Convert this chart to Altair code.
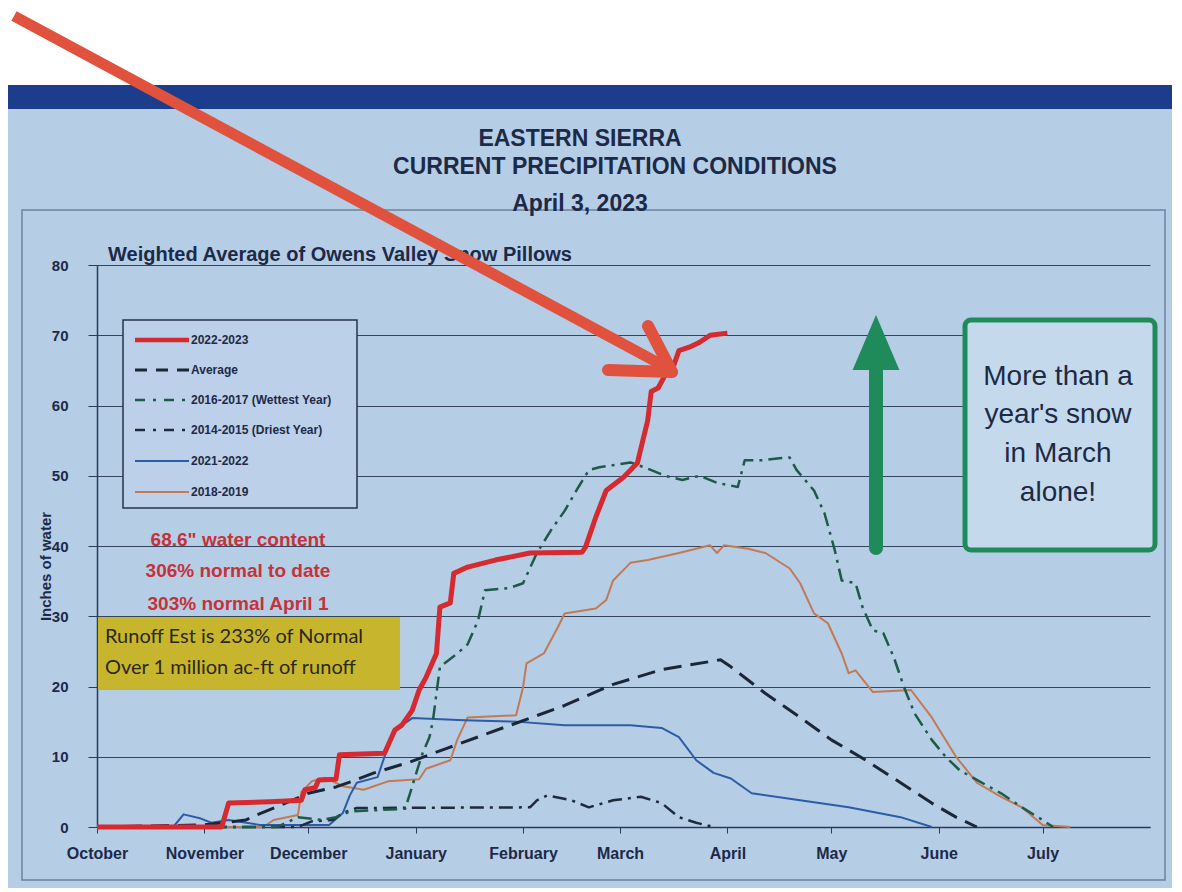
import altair as alt
import pandas as pd

# ---------------- data ----------------
SERIES = ["2022-2023", "Average", "2016-2017 (Wettest Year)",
          "2014-2015 (Driest Year)", "2021-2022", "2018-2019"]

wy2023_dates = ["2022-10-01", "2022-11-06", "2022-11-08", "2022-11-20", "2022-11-29", "2022-11-30",
                "2022-12-03", "2022-12-04", "2022-12-09", "2022-12-10", "2022-12-23", "2022-12-26",
                "2022-12-28", "2022-12-31", "2023-01-02", "2023-01-04", "2023-01-07", "2023-01-08",
                "2023-01-11", "2023-01-12", "2023-01-16", "2023-01-24", "2023-02-03", "2023-02-18",
                "2023-02-19", "2023-02-22", "2023-02-25", "2023-03-02", "2023-03-06", "2023-03-09",
                "2023-03-10", "2023-03-12", "2023-03-14", "2023-03-16", "2023-03-18", "2023-03-21",
                "2023-03-24", "2023-03-27", "2023-04-01"]
wy2023_vals = [0, 0, 3.4, 3.6, 3.8, 5.3, 5.6, 6.7, 6.8, 10.3, 10.5, 13.8, 14.5, 16.6, 19.5, 21.3,
               24.7, 31.3, 31.9, 36.1, 37.0, 38.0, 39.0, 39.1, 39.8, 44.1, 47.9, 49.8, 51.8, 57.9,
               62.0, 62.5, 64.3, 65.0, 67.8, 68.3, 69.0, 70.0, 70.3]

avg_dates = ["2022-10-01", "2022-11-01", "2022-11-13", "2022-11-16", "2022-11-23", "2022-12-01",
             "2022-12-09", "2022-12-13", "2022-12-20", "2022-12-30", "2023-01-10", "2023-01-20",
             "2023-02-03", "2023-02-13", "2023-02-27", "2023-03-13", "2023-03-30", "2023-04-02",
             "2023-04-12", "2023-04-22", "2023-05-01", "2023-05-11", "2023-05-21", "2023-05-30",
             "2023-06-06", "2023-06-12"]
avg_vals = [0, 0.3, 1.0, 1.7, 3.1, 4.8, 5.7, 6.4, 7.7, 9.2, 11.2, 13.0, 15.5, 17.3, 20.3, 22.4,
            23.8, 22.8, 19.0, 15.6, 12.4, 9.5, 6.3, 3.4, 1.4, 0]

wet_dates = ["2022-10-01", "2022-11-22", "2022-11-28", "2022-12-05", "2022-12-09", "2022-12-13",
             "2022-12-29", "2023-01-02", "2023-01-03", "2023-01-05", "2023-01-06", "2023-01-08",
             "2023-01-13", "2023-01-16", "2023-01-19", "2023-01-21", "2023-01-28", "2023-02-01",
             "2023-02-05", "2023-02-09", "2023-02-13", "2023-02-17", "2023-02-20", "2023-02-23",
             "2023-03-04", "2023-03-08", "2023-03-14", "2023-03-19", "2023-03-24", "2023-03-29",
             "2023-04-04", "2023-04-06", "2023-04-11", "2023-04-16", "2023-04-19", "2023-04-21",
             "2023-04-26", "2023-04-29", "2023-05-02", "2023-05-04", "2023-05-08", "2023-05-10",
             "2023-05-13", "2023-05-16", "2023-05-19", "2023-05-22", "2023-05-25", "2023-05-30",
             "2023-06-03", "2023-06-07", "2023-06-12", "2023-06-19", "2023-06-25", "2023-07-01",
             "2023-07-04"]
wet_vals = [0, 0, 1.4, 1.0, 1.4, 2.2, 2.6, 9.0, 10.5, 12.8, 15.2, 22.8, 24.7, 26.0, 29.4, 33.7,
            34.0, 34.7, 39.0, 42.2, 45.0, 48.4, 50.8, 51.2, 51.9, 51.2, 50.0, 49.4, 50.0, 49.0,
            48.4, 52.2, 52.2, 52.5, 52.6, 50.8, 47.9, 44.7, 39.4, 35.1, 34.7, 31.3, 28.0, 27.6,
            24.2, 19.9, 16.2, 12.4, 10.0, 8.1, 6.7, 4.8, 2.8, 1.0, 0]

dry_dates = ["2022-10-01", "2022-11-28", "2022-12-02", "2022-12-08", "2022-12-11", "2022-12-15",
             "2023-02-03", "2023-02-05", "2023-02-08", "2023-02-15", "2023-02-20", "2023-02-27",
             "2023-03-07", "2023-03-13", "2023-03-18", "2023-03-23", "2023-03-28"]
dry_vals = [0, 0, 0.8, 1.0, 2.0, 2.7, 2.8, 3.8, 4.5, 3.8, 2.8, 3.8, 4.3, 3.4, 1.4, 0.6, 0]

wy2022_dates = ["2022-10-01", "2022-10-23", "2022-10-26", "2022-10-31", "2022-11-03", "2022-11-08",
                "2022-11-17", "2022-12-07", "2022-12-11", "2022-12-13", "2022-12-15", "2022-12-21",
                "2022-12-23", "2022-12-26", "2022-12-31", "2023-01-15", "2023-01-30", "2023-02-13",
                "2023-03-04", "2023-03-13", "2023-03-18", "2023-03-23", "2023-03-28", "2023-04-02",
                "2023-04-08", "2023-04-22", "2023-05-06", "2023-05-21", "2023-05-30"]
wy2022_vals = [0, 0, 1.8, 1.2, 0.6, 1.0, 0.3, 0.3, 2.0, 4.5, 6.3, 7.1, 10.0, 13.8, 15.5, 15.2,
               15.0, 14.5, 14.5, 14.1, 12.8, 9.5, 7.7, 6.9, 4.8, 3.8, 2.8, 1.4, 0]

wy2019_dates = ["2022-10-01", "2022-11-18", "2022-11-21", "2022-11-28", "2022-11-29", "2022-12-02",
                "2022-12-06", "2022-12-11", "2022-12-17", "2022-12-24", "2023-01-02", "2023-01-04",
                "2023-01-11", "2023-01-13", "2023-01-16", "2023-01-30", "2023-02-01", "2023-02-02",
                "2023-02-07", "2023-02-11", "2023-02-13", "2023-02-22", "2023-02-25", "2023-02-27",
                "2023-03-04", "2023-03-09", "2023-03-18", "2023-03-27", "2023-03-29", "2023-03-31",
                "2023-04-07", "2023-04-12", "2023-04-19", "2023-04-22", "2023-04-26", "2023-04-30",
                "2023-05-04", "2023-05-06", "2023-05-08", "2023-05-13", "2023-05-24", "2023-05-30",
                "2023-06-06", "2023-06-12", "2023-06-19", "2023-06-25", "2023-07-01", "2023-07-09"]
wy2019_vals = [0, 0, 1.0, 1.7, 5.0, 6.5, 7.0, 5.8, 5.3, 6.5, 6.8, 8.3, 9.5, 12.4, 15.6, 15.9,
               19.9, 23.3, 24.7, 28.4, 30.4, 31.1, 32.3, 35.1, 37.6, 38.0, 39.0, 40.1, 39.0, 40.1,
               39.6, 39.0, 36.8, 34.7, 30.4, 29.0, 24.7, 21.9, 22.3, 19.2, 19.5, 15.6, 10.0, 6.3,
               4.3, 2.8, 0.3, 0]

Y_TICKS = [0, 10, 20, 30, 40, 50, 60, 70, 80]
MONTH_TICKS = [(2022, 10), (2022, 11), (2022, 12), (2023, 1), (2023, 2), (2023, 3),
               (2023, 4), (2023, 5), (2023, 6), (2023, 7)]

TITLE_LINES = ["EASTERN SIERRA", "CURRENT PRECIPITATION CONDITIONS", "April 3, 2023"]
SUBTITLE = "Weighted Average of Owens Valley Snow Pillows"
RED_NOTES = ['68.6" water content', "306% normal to date", "303% normal April 1"]
YELLOW_NOTES = ["Runoff Est is 233% of Normal", "Over 1 million ac-ft of runoff"]
BOX_TEXT = ["More than a", "year's snow", "in March", "alone!"]

# ---------------- styles ----------------
SERIES_DATA = [(wy2023_dates, wy2023_vals), (avg_dates, avg_vals), (wet_dates, wet_vals),
               (dry_dates, dry_vals), (wy2022_dates, wy2022_vals), (wy2019_dates, wy2019_vals)]
COLORS = ["#d42a30", "#1b2636", "#1d5a47", "#1f2a3c", "#2b5ca6", "#c27a55"]
DASHES = [None, [18, 9], [14, 6, 3, 6], [14, 6, 3, 6], None, None]
WIDTHS = [5, 3, 2.5, 2.5, 2, 2]
DRAW_ORDER = [5, 4, 3, 2, 1, 0]

NAVY = "#1c2a48"
BG = "#b6cde6"
NARROW = "Liberation Sans Narrow, Arial Narrow, Liberation Sans, sans-serif"
SANS = "Liberation Sans, Arial, sans-serif"

W, H = 1053, 562
OX, OY = 97, 265  # page position of plot origin


def px(v):
    return v - OX


def py(v):
    return v - OY


one = pd.DataFrame({"k": [0]})

x_scale = alt.Scale(type="utc", domain=[alt.DateTime(year=2022, month=10, date=1, utc=True),
                                        alt.DateTime(year=2023, month=8, date=1, utc=True)])
x_axis = alt.Axis(values=[alt.DateTime(year=y, month=m, date=1, utc=True) for y, m in MONTH_TICKS],
                  labelExpr="utcFormat(datum.value, '%B')", grid=False, title=None,
                  domainColor="#2b3a57", domainWidth=1.5, tickColor="#2b3a57", tickSize=6,
                  labelFont=NARROW, labelFontSize=16, labelFontWeight="bold", labelColor=NAVY,
                  labelPadding=12, labelFlush=False, labelOverlap=False)
y_axis = alt.Axis(values=Y_TICKS, grid=True, gridColor="#34445f", gridWidth=1.2,
                  domainColor="#2b3a57", domainWidth=1.5, tickColor="#2b3a57", tickSize=9,
                  labelFont=NARROW, labelFontSize=15, labelFontWeight="bold", labelColor=NAVY,
                  labelPadding=20, title="Inches of water", titleFont=NARROW, titleFontSize=15,
                  titleFontWeight="bold", titleColor=NAVY, titleAngle=-90, titleX=-52, titleY=301,
                  titleAlign="center", titleBaseline="middle")
x_enc = alt.X("date:T", scale=x_scale, axis=x_axis)
y_enc = alt.Y("value:Q", scale=alt.Scale(domain=[0, 80], nice=False), axis=y_axis)


def rect(x1, y1, x2, y2, **kw):
    return alt.Chart(one).mark_rect(**kw).encode(
        x=alt.value(px(x1)), x2=alt.value(px(x2)), y=alt.value(py(y1)), y2=alt.value(py(y2)))


def rule(x1, y1, x2, y2, **kw):
    return alt.Chart(one).mark_rule(**kw).encode(
        x=alt.value(px(x1)), x2=alt.value(px(x2)), y=alt.value(py(y1)), y2=alt.value(py(y2)))


def text(x, y, t, **kw):
    return alt.Chart(one).mark_text(**kw).encode(
        x=alt.value(px(x)), y=alt.value(py(y)), text=alt.value(t))


layers = []
# page top (white), title band, chart frame
layers.append(rect(-10, 0, 1200, 85, color="white"))
layers.append(rect(8, 85, 1175, 109, color="#1b3d8c"))
layers.append(rect(22, 210, 1165, 880, fillOpacity=0, stroke="#6f819d", strokeWidth=1.5))
# boxes that cover the grid
layers.append(rect(123, 320, 357, 508, color="#bcd1e9", stroke="#26324d", strokeWidth=1.5))
layers.append(rect(98, 617, 400, 690, color="#c8b52e"))
layers.append(rect(965, 320, 1155, 550, color="#c5d9ed", stroke="#1f8b5b", strokeWidth=5,
                   cornerRadius=6))

# data lines
for i in DRAW_ORDER:
    d, v = SERIES_DATA[i]
    df = pd.DataFrame({"date": d, "value": v, "series": SERIES[i]})
    kw = dict(color=COLORS[i], strokeWidth=WIDTHS[i], strokeJoin="round")
    if DASHES[i] is not None:
        kw["strokeDash"] = DASHES[i]
    layers.append(alt.Chart(df).mark_line(**kw).encode(x=x_enc, y=y_enc))

# manual legend
LEG_Y = [340, 370, 400, 430, 461, 492]
for i, name in enumerate(SERIES):
    kw = dict(color=COLORS[i], strokeWidth=WIDTHS[i] if i else 4.5)
    if DASHES[i] is not None:
        kw["strokeDash"] = [12, 9] if i == 1 else [10, 8, 3, 8]
    layers.append(rule(135, LEG_Y[i], 189, LEG_Y[i], **kw))
    layers.append(text(191, LEG_Y[i], name, align="left", baseline="middle", font=NARROW,
                       fontSize=12, fontWeight="bold", color=NAVY))

# titles
layers.append(text(580, 139, TITLE_LINES[0], align="center", baseline="middle", font=SANS,
                   fontSize=23, fontWeight="bold", color=NAVY))
layers.append(text(615, 167, TITLE_LINES[1], align="center", baseline="middle", font=SANS,
                   fontSize=23, fontWeight="bold", color=NAVY))
layers.append(text(580, 204, TITLE_LINES[2], align="center", baseline="middle", font=SANS,
                   fontSize=23, fontWeight="bold", color=NAVY))
layers.append(text(108, 255, SUBTITLE, align="left", baseline="middle", font=SANS,
                   fontSize=20, fontWeight="bold", color=NAVY))

# red notes
for t, yy in zip(RED_NOTES, [540, 571, 604]):
    layers.append(text(238, yy, t, align="center", baseline="middle", font=SANS, fontSize=19,
                       fontWeight="bold", color="#c4323a"))
# yellow notes
for t, yy in zip(YELLOW_NOTES, [637, 668]):
    layers.append(text(105, yy, t, align="left", baseline="middle", font="Lato", fontSize=20,
                       color="#2a2818"))
# green box text (one text per line)
for t, yy in zip(BOX_TEXT, [377, 415, 454, 493]):
    layers.append(text(1058, yy, t, align="center", baseline="middle", font=SANS,
                       fontSize=28, color="#1c2a44"))

# green arrow
layers.append(rule(876, 548, 876, 360, color="#1f8b5b", strokeWidth=14, strokeCap="round"))
layers.append(alt.Chart(one).mark_point(shape="M-0.85,1L0.85,1L0,-1Z", filled=True, opacity=1,
                                        color="#1f8b5b").encode(
    x=alt.value(px(876)), y=alt.value(py(342.5)), size=alt.value(55 * 55)))

# red photo arrow
RED_ARROW = "#e0513e"
layers.append(rule(14, 16, 664, 366, color=RED_ARROW, strokeWidth=11))
layers.append(rule(608, 370, 672, 372, color=RED_ARROW, strokeWidth=12, strokeCap="round"))
layers.append(rule(648, 326, 672, 372, color=RED_ARROW, strokeWidth=12, strokeCap="round"))

chart = alt.layer(*layers).properties(
    width=W, height=H,
    autosize=alt.AutoSizeParams(type="none"),
    padding={"left": 89, "top": 257, "right": 22, "bottom": 61},
    background=BG,
).configure_view(strokeWidth=0)

chart.save("out.html", embed_options={"renderer": "svg", "actions": False})
